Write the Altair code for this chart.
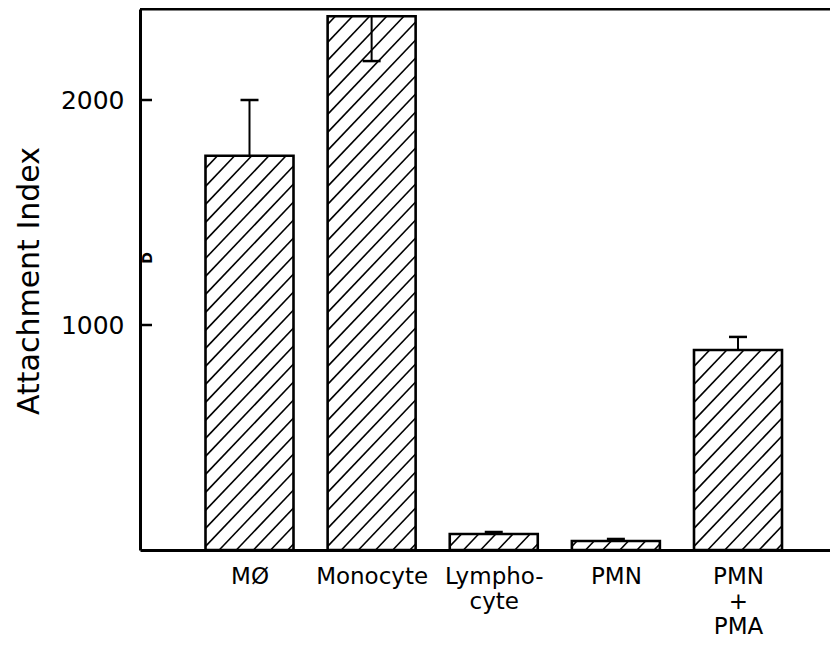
import altair as alt
import pandas as pd

# ---- data ----
categories = ["MØ", "Monocyte", "Lympho-|cyte", "PMN", "PMN|+|PMA"]
positions = [1, 2, 3, 4, 5]
attachment = [1752, 2372, 71, 40, 889]
sem = [248, 199, 9, 9, 58]
err_dir = [1, -1, 1, 1, 1]          # Monocyte error bar is drawn downward inside the bar
y_ticks = [1000, 2000]

# ---- layout / scales ----
W, H = 690, 541
PX_PER_Y = 0.225
YMAX = H / PX_PER_Y
PX_PER_X = 122.125
XMIN = 1 - 109.5 / PX_PER_X
XMAX = XMIN + W / PX_PER_X
BAR_PX = 88
HALF = BAR_PX / 2 / PX_PER_X
FONT = "DejaVu Sans"

bars = pd.DataFrame({
    "pos": positions,
    "cat": categories,
    "val": attachment,
    "x0": [p - HALF for p in positions],
    "x1": [p + HALF for p in positions],
    "err_end": [v + d * s for v, d, s in zip(attachment, err_dir, sem)],
})

# hatch lines ("/" pattern) clipped to each bar, derived from bar values through the scales
SLOPE, STEP = 1.05, 18.0
rows = []
for p, v in zip(positions, attachment):
    h = v * PX_PER_Y
    c = -SLOPE * BAR_PX + 6
    while c < h:
        u_lo = max(0.0, -c / SLOPE)
        u_hi = min(BAR_PX, (h - c) / SLOPE)
        if u_hi - u_lo > 0.5:
            rows.append({
                "hx": p - HALF + u_lo / PX_PER_X,
                "hx2": p - HALF + u_hi / PX_PER_X,
                "hy": (SLOPE * u_lo + c) / PX_PER_Y,
                "hy2": (SLOPE * u_hi + c) / PX_PER_Y,
            })
        c += STEP
hatch = pd.DataFrame(rows)

xscale = alt.Scale(domain=[XMIN, XMAX], nice=False, zero=False)
yscale = alt.Scale(domain=[0, YMAX], nice=False)

label_expr = "split([" + ",".join("'%s'" % c for c in categories) + "][datum.value-1], '|')"

x_axis = alt.Axis(
    values=positions, labelExpr=label_expr, title=None, ticks=False, grid=False,
    domainColor="black", domainWidth=3, labelFont=FONT, labelFontSize=23,
    labelColor="black", labelLineHeight=25, labelPadding=15, labelAngle=0,
    labelBaseline="top",
    labelOverlap=False, labelFlush=False, labelBound=False,
)
y_axis = alt.Axis(
    values=y_ticks, format="d", title="Attachment Index", ticks=False, grid=False,
    domainColor="black", domainWidth=3, labelFont=FONT, labelFontSize=25,
    labelColor="black", labelPadding=16, labelFlush=False, labelOverlap=False,
    titleFont=FONT, titleFontSize=30, titleFontWeight="normal", titleColor="black",
    titleAngle=-90, titleX=-102, titleY=H / 2 + 1, titleAlign="center",
    titleBaseline="alphabetic",
)

hatch_layer = alt.Chart(hatch).mark_rule(color="black", strokeWidth=1.6).encode(
    x=alt.X("hx:Q", scale=xscale, axis=x_axis),
    x2="hx2:Q",
    y=alt.Y("hy:Q", scale=yscale, axis=y_axis),
    y2="hy2:Q",
)

bar_layer = alt.Chart(bars).mark_rect(
    fillOpacity=0, stroke="black", strokeWidth=2.6
).encode(
    x=alt.X("x0:Q", scale=xscale),
    x2="x1:Q",
    y=alt.Y("val:Q", scale=yscale),
    y2=alt.datum(0),
)

err_line = alt.Chart(bars).mark_rule(color="black", strokeWidth=2).encode(
    x=alt.X("pos:Q", scale=xscale),
    y=alt.Y("val:Q", scale=yscale),
    y2="err_end:Q",
)
err_cap = alt.Chart(bars).mark_tick(
    orient="horizontal", color="black", size=18, thickness=2.5, opacity=1
).encode(
    x=alt.X("pos:Q", scale=xscale),
    y=alt.Y("err_end:Q", scale=yscale),
)

tick_layer = alt.Chart(pd.DataFrame({"t": y_ticks})).mark_rule(
    color="black", strokeWidth=2.5
).encode(
    y=alt.Y("t:Q", scale=yscale),
    x=alt.value(0),
    x2=alt.value(12),
)

top_line = alt.Chart(pd.DataFrame({"t": [YMAX]})).mark_rule(
    color="black", strokeWidth=3
).encode(
    y=alt.Y("t:Q", scale=yscale),
    x=alt.value(0),
    x2=alt.value(W),
)

mark_d = alt.Chart(pd.DataFrame({"s": ["D"]})).mark_text(
    font=FONT, fontSize=14, fontWeight="bold", angle=270, color="black"
).encode(text="s:N", x=alt.value(8), y=alt.value(249))

chart = alt.layer(
    hatch_layer, bar_layer, err_line, err_cap, tick_layer, top_line, mark_d
).properties(
    width=W, height=H,
    autosize=alt.AutoSizeParams(type="none"),
    padding={"left": 132, "top": 1, "right": 0, "bottom": 89},
    background="white",
).configure_view(stroke=None)

chart.save("out.html", embed_options={"renderer": "svg", "actions": False})
